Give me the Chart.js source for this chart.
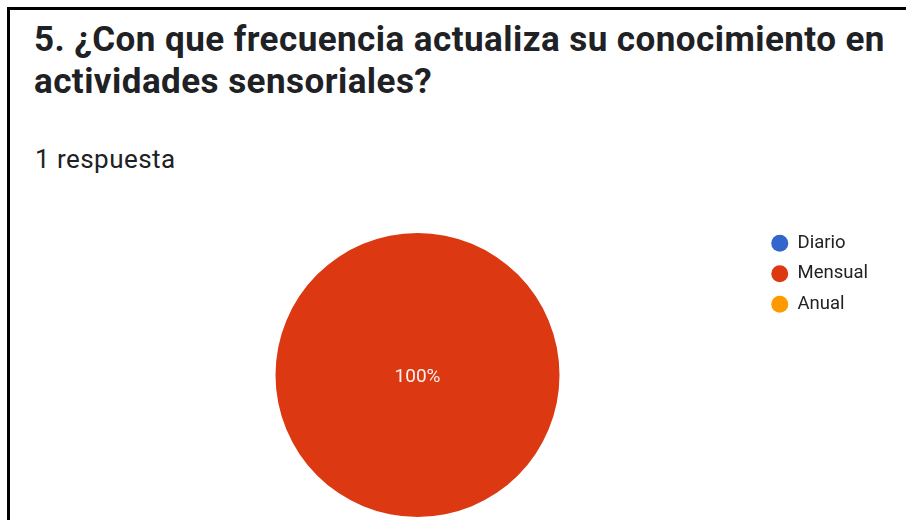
<!DOCTYPE html>
<html>
<head>
<meta charset="utf-8">
<script src="https://cdn.jsdelivr.net/npm/chart.js@4.4.1/dist/chart.umd.min.js"></script>
<style>
  html, body { margin:0; padding:0; width:906px; height:520px; overflow:hidden; background:#fff; font-family:Roboto, sans-serif; }
  #frame { position:absolute; left:7px; top:7px; width:920px; height:530px; border-left:3px solid #000; border-top:3px solid #000; box-sizing:border-box; }
  #title { position:absolute; left:34px; top:19px; margin:0; font-weight:700; font-size:35px; line-height:42px; letter-spacing:0.45px; color:#202124; white-space:nowrap; }
  #sub { position:absolute; left:35px; top:144px; margin:0; font-size:26px; line-height:30px; letter-spacing:0.45px; color:#202124; white-space:nowrap; }
  #chart { position:absolute; left:0; top:0; }
</style>
</head>
<body>
<div id="frame"></div>
<div id="title"></div>
<div id="sub"></div>
<canvas id="chart" width="906" height="530"></canvas>
<script>
// ---- data ----
const titleLines = ['5. ¿Con que frecuencia actualiza su conocimiento en', 'actividades sensoriales?'];
const subtitle = '1 respuesta';
const categories = ['Diario', 'Mensual', 'Anual'];
const responses = [0, 1, 0];
const sliceColors = ['#3366cc', '#dc3912', '#ff9900'];

document.getElementById('title').innerHTML = titleLines.join('<br>');
document.getElementById('sub').textContent = subtitle;

Chart.defaults.font.family = 'Roboto';

const LEGEND_W = 130;
const fixLegendWidth = {
  id: 'fixLegendWidth',
  beforeLayout(chart) {
    const lg = chart.legend;
    if (lg && !lg._fixed) {
      const fit = lg.fit;
      lg.fit = function () { fit.call(this); this.width = LEGEND_W; };
      lg._fixed = true;
    }
  }
};

const pctLabels = {
  id: 'pctLabels',
  afterDatasetsDraw(chart) {
    const ctx = chart.ctx;
    const ds = chart.data.datasets[0];
    const total = ds.data.reduce((a, b) => a + b, 0);
    const meta = chart.getDatasetMeta(0);
    ctx.save();
    ctx.font = '19px Roboto';
    ctx.fillStyle = '#fbf3f0';
    ctx.textAlign = 'center';
    ctx.textBaseline = 'middle';
    meta.data.forEach((arc, i) => {
      const v = ds.data[i];
      if (!v) return;
      const pct = Math.round(v / total * 100);
      let pos;
      if (pct === 100) pos = { x: arc.x, y: arc.y };
      else pos = arc.tooltipPosition();
      ctx.fillText(pct + '%', pos.x, pos.y + 2);
    });
    ctx.restore();
  }
};

new Chart(document.getElementById('chart'), {
  type: 'pie',
  data: {
    labels: categories,
    datasets: [{
      data: responses,
      backgroundColor: sliceColors,
      borderWidth: 0,
      radius: 142
    }]
  },
  options: {
    responsive: false,
    animation: false,
    layout: { padding: { left: 75.75, right: 16.75, top: 222, bottom: 2 } },
    plugins: {
      tooltip: { enabled: false },
      legend: {
        position: 'right',
        align: 'start',
        labels: {
          usePointStyle: true,
          pointStyle: 'circle',
          pointStyleWidth: 17,
          boxHeight: 12,
          padding: 12,
          color: '#222',
          font: { size: 18.5, family: 'Roboto' }
        }
      }
    }
  },
  plugins: [fixLegendWidth, pctLabels]
});
</script>
</body>
</html>
